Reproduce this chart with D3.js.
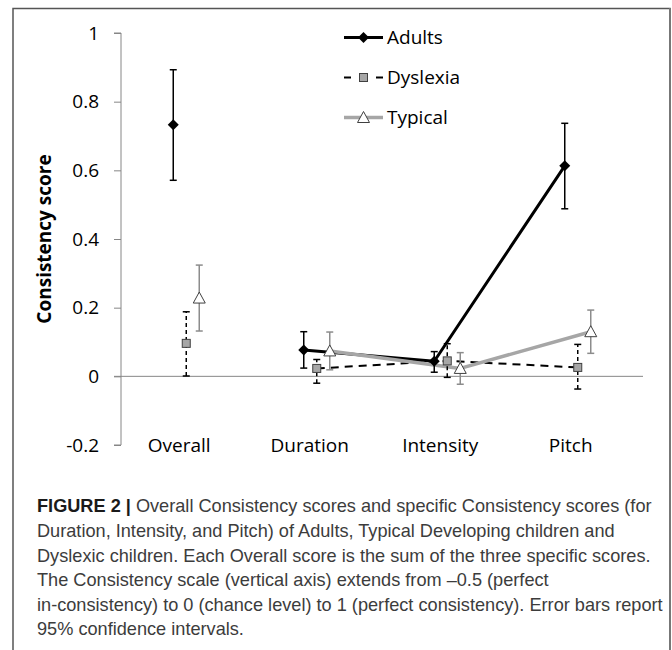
<!DOCTYPE html>
<html><head><meta charset="utf-8">
<script src="https://cdn.jsdelivr.net/npm/d3@7"></script>
<style>body{margin:0;background:#fff}svg{display:block}</style>
</head><body>
<svg id="c" width="672" height="650"></svg>
<script>
const categories = ["Overall","Duration","Intensity","Pitch"];
const yTicks = [1,0.8,0.6,0.4,0.2,0,-0.2];
const yTickLabels = ["1","0.8","0.6","0.4","0.2","0","-0.2"];
const seriesNames = ["Adults","Dyslexia","Typical"];
const adults = [0.733, 0.077, 0.044, 0.613];
const adultsLo = [0.571, 0.024, 0.012, 0.488];
const adultsHi = [0.893, 0.130, 0.072, 0.737];
const dyslexia = [0.096, 0.023, 0.045, 0.026];
const dyslexiaLo = [0.001, -0.020, -0.003, -0.037];
const dyslexiaHi = [0.188, 0.049, 0.095, 0.093];
const typical = [0.228, 0.074, 0.023, 0.130];
const typicalLo = [0.132, 0.019, -0.023, 0.067];
const typicalHi = [0.324, 0.129, 0.069, 0.193];
const yTitle = "Consistency score";
const captionBold = "FIGURE 2 |";
const captionLines = [
 " Overall Consistency scores and specific Consistency scores (for",
 "Duration, Intensity, and Pitch) of Adults, Typical Developing children and",
 "Dyslexic children. Each Overall score is the sum of the three specific scores.",
 "The Consistency scale (vertical axis) extends from \u20130.5 (perfect",
 "in-consistency) to 0 (chance level) to 1 (perfect consistency). Error bars report",
 "95% confidence intervals."
];

const svg = d3.select("#c");
const FONT = "'Open Sans', sans-serif";

// frame
svg.append("path").attr("d","M13,650 L13,8.5 L670,8.5 L670,650").attr("fill","none")
  .attr("stroke","#555").attr("stroke-width",1.5);
svg.append("line").attr("x1",670).attr("x2",670).attr("y1",8).attr("y2",650)
  .attr("stroke","#777").attr("stroke-width",2);

const x = d3.scaleBand().domain(categories).range([121,643]);
const y = d3.scaleLinear().domain([-0.2,1]).range([445,33]);
const cx = c => x(c) + x.bandwidth()/2;

// y axis
const yAxis = d3.axisLeft(y).tickValues(yTicks).tickSize(7)
  .tickFormat((d,i)=>yTickLabels[i]).tickPadding(15);
const ga = svg.append("g").attr("transform","translate(121,0)").call(yAxis);
ga.select(".domain").attr("stroke","#868686").attr("d",`M-7,${y(1)}H0V${y(-0.2)}H-7`);
ga.selectAll(".tick line").attr("stroke","#868686");
ga.selectAll(".tick text").attr("font-family",FONT).attr("font-size",19).attr("fill","#000");

// zero line
svg.append("line").attr("x1",114).attr("x2",643).attr("y1",y(0)).attr("y2",y(0))
  .attr("stroke","#868686").attr("stroke-width",1);

// category labels
svg.selectAll("text.cat").data(categories).enter().append("text").attr("class","cat")
  .attr("x",d=>cx(d)-7).attr("y",y(-0.2)).attr("dy","0.35em").attr("text-anchor","middle")
  .attr("font-family",FONT).attr("font-size",19).attr("fill","#000").text(d=>d);

// y title
svg.append("text").attr("transform",`translate(51,${(y(1)+y(-0.2))/2}) rotate(-90)`)
  .attr("text-anchor","middle").attr("font-family",FONT).attr("font-weight","bold")
  .attr("font-size",19).attr("fill","#000").text(yTitle);

const series = [
  {name:"Adults", v:adults, lo:adultsLo, hi:adultsHi, off:-13, lc:"#000", lw:3, dash:null, ec:"#000", edash:null, marker:"diamond"},
  {name:"Dyslexia", v:dyslexia, lo:dyslexiaLo, hi:dyslexiaHi, off:0, lc:"#000", lw:2, dash:"8,6", ec:"#000", edash:"4,3", marker:"square"},
  {name:"Typical", v:typical, lo:typicalLo, hi:typicalHi, off:13, lc:"#a6a6a6", lw:3.5, dash:null, ec:"#8c8c8c", edash:null, marker:"triangle"}
];

const line = d3.line().x(d=>d[0]).y(d=>d[1]);
series.forEach(s=>{
  const pts = categories.map((c,i)=>[cx(c)+s.off, y(s.v[i])]).slice(1);
  svg.append("path").attr("d",line(pts)).attr("fill","none").attr("stroke",s.lc)
    .attr("stroke-width",s.lw).attr("stroke-dasharray",s.dash).attr("stroke-linejoin","round");
});

// error bars
series.forEach(s=>{
  categories.forEach((c,i)=>{
    const xx = cx(c)+s.off;
    const g = svg.append("g").attr("stroke",s.ec).attr("stroke-width",1.5).attr("fill","none");
    g.append("line").attr("x1",xx).attr("x2",xx).attr("y1",y(s.lo[i])).attr("y2",y(s.hi[i]))
      .attr("stroke-dasharray",s.edash);
    [s.lo[i], s.hi[i]].forEach(v=>{
      g.append("line").attr("x1",xx-3.5).attr("x2",xx+3.5).attr("y1",y(v)).attr("y2",y(v));
    });
  });
});

function drawMarker(g, type, xx, yy){
  if(type==="diamond"){
    g.append("path").attr("d",`M${xx},${yy-5.5}L${xx+5.5},${yy}L${xx},${yy+5.5}L${xx-5.5},${yy}Z`).attr("fill","#000");
  } else if(type==="square"){
    g.append("rect").attr("x",xx-4).attr("y",yy-4).attr("width",8).attr("height",8)
      .attr("fill","#a6a6a6").attr("stroke","#404040").attr("stroke-width",1);
  } else {
    g.append("path").attr("d",`M${xx},${yy-6}L${xx+6},${yy+5}L${xx-6},${yy+5}Z`)
      .attr("fill","#fff").attr("stroke","#404040").attr("stroke-width",1);
  }
}
series.forEach(s=>{
  categories.forEach((c,i)=>drawMarker(svg, s.marker, cx(c)+s.off, y(s.v[i])));
});

// legend
const legY = d3.scalePoint().domain(seriesNames).range([37.5,117.5]);
series.forEach(s=>{
  const ly = legY(s.name);
  if(s.dash){
    svg.append("line").attr("x1",344).attr("x2",351).attr("y1",ly).attr("y2",ly).attr("stroke",s.lc).attr("stroke-width",s.lw);
    svg.append("line").attr("x1",376).attr("x2",383).attr("y1",ly).attr("y2",ly).attr("stroke",s.lc).attr("stroke-width",s.lw);
  } else {
    svg.append("line").attr("x1",344).attr("x2",383).attr("y1",ly).attr("y2",ly).attr("stroke",s.lc).attr("stroke-width",s.lw);
  }
  drawMarker(svg, s.marker, 363.5, ly);
  svg.append("text").attr("x",387).attr("y",ly).attr("dy","0.35em").attr("font-family",FONT)
    .attr("font-size",19).attr("fill","#000").text(s.name);
});

// caption
const capFont = "'Liberation Sans', Arial, sans-serif";
const cap = svg.append("g");
const lineStep = 24.6;
captionLines.forEach((t,i)=>{
  const tx = cap.append("text").attr("x",37).attr("y",506+i*lineStep).attr("dy","0.35em")
    .attr("font-family",capFont).attr("font-size",17).attr("fill","#3c3c3c");
  if(i===0){ tx.append("tspan").attr("font-weight","bold").attr("fill","#1a1a1a").text(captionBold); }
  tx.append("tspan").text(t);
});
// fit first line width to reference (~615px)
const first = cap.select("text").node();
const w = first.getComputedTextLength();
const fs = 17*615/w;
cap.selectAll("text").attr("font-size",fs);
</script>
</body></html>
